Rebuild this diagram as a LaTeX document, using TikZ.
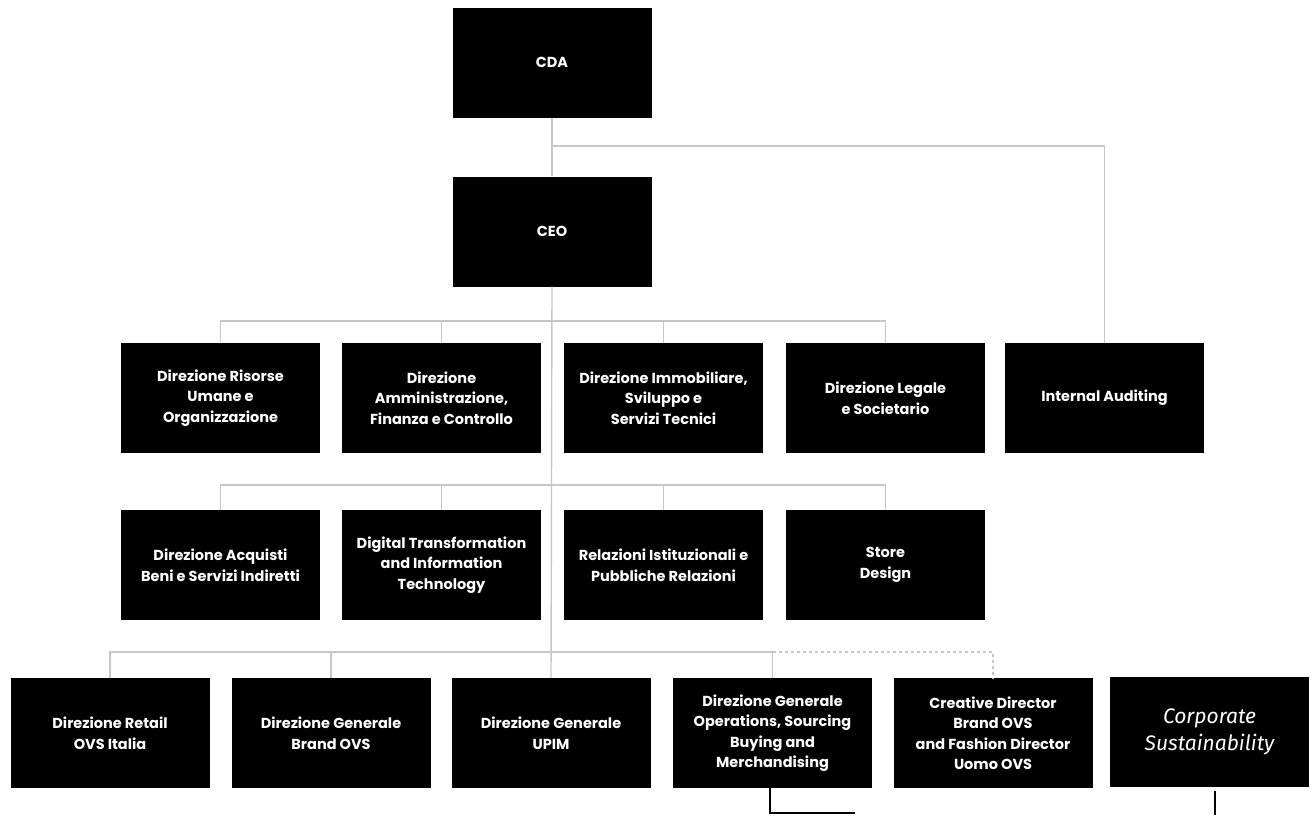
\documentclass[tikz,border=0pt]{standalone}
\usepackage{fontspec}
\setmainfont{Poppins}
\newfontfamily\csfont{Fira Sans}
\begin{document}
\begin{tikzpicture}[x=1pt,y=-1pt,
  box/.style={fill=black, minimum width=199pt, minimum height=110pt, text=white,
    font=\fontsize{14.5}{20.5}\selectfont\bfseries, align=center, inner sep=0pt},
  link/.style={draw=black!22, line width=1.4pt},
  dlink/.style={link, dash pattern=on 3pt off 3pt},
  tail/.style={draw=black, line width=1.3pt}]
\useasboundingbox (0,0) rectangle (1313,815);
% top
\node[box] (cda) at (552,62.5) {CDA};
\node[box] (ceo) at (552,231.5) {CEO};
% row 1
\node[box] (r1a) at (220.5,398) {Direzione Risorse\\Umane e\\Organizzazione};
\node[box] (r1b) at (441.5,398) {Direzione\\Amministrazione,\\Finanza e Controllo};
\node[box] (r1c) at (663.5,398) {Direzione Immobiliare,\\Sviluppo e\\Servizi Tecnici};
\node[box] (r1d) at (885.5,398) {Direzione Legale\\e Societario};
\node[box] (r1e) at (1104.5,398) {Internal Auditing};
% row 2
\node[box] (r2a) at (220.5,565) {Direzione Acquisti\\Beni e Servizi Indiretti};
\node[box] (r2b) at (441.5,565) {Digital Transformation\\and Information\\Technology};
\node[box] (r2c) at (663.5,565) {Relazioni Istituzionali e\\Pubbliche Relazioni};
\node[box] (r2d) at (885.5,565) {Store\\Design};
% row 3
\node[box] (r3a) at (110,733) {Direzione Retail\\OVS Italia};
\node[box] (r3b) at (331,733) {Direzione Generale\\Brand OVS};
\node[box] (r3c) at (551,733) {Direzione Generale\\UPIM};
\node[box] (r3d) at (772.5,733) {Direzione Generale\\Operations, Sourcing\\Buying and\\Merchandising};
\node[box] (r3e) at (993,733) {Creative Director\\Brand OVS\\and Fashion Director\\Uomo OVS};
\node[box, font=\csfont\itshape\fontsize{21}{27}\selectfont] (cs) at (1209.5,732) {Corporate\\Sustainability};
% junction coordinates
\coordinate (jA) at (552,146);
\coordinate (j1) at (552,321);
\coordinate (j2) at (552,485);
\coordinate (j3) at (552,652);
\coordinate (t1) at (770,813);
\coordinate (t2) at (855,813);
\coordinate (t3) at (1215,815);
% main spine
\draw[link] (cda.south) -- (ceo.north);
\draw[link] (ceo.south) -- (r3c.north);
\draw[link] (jA) -| (r1e.north);
% row 1
\draw[link] (r1a.north) |- (j1) -| (r1d.north);
\draw[link] (r1b.north) -- (r1b.north |- j1);
\draw[link] (r1c.north) -- (r1c.north |- j1);
% row 2
\draw[link] (r2a.north) |- (j2) -| (r2d.north);
\draw[link] (r2b.north) -- (r2b.north |- j2);
\draw[link] (r2c.north) -- (r2c.north |- j2);
% row 3
\draw[link] (r3a.north) |- (j3) -| (r3d.north);
\draw[link] (r3b.north) -- (r3b.north |- j3);
\draw[dlink] (r3d.north |- j3) -| (r3e.north);
% tails at the bottom
\draw[tail] (r3d.south -| t1) -- (t1) -- (t2);
\draw[tail] (cs.south -| t3) ++(0,4) -- (t3);
\end{tikzpicture}
\end{document}
